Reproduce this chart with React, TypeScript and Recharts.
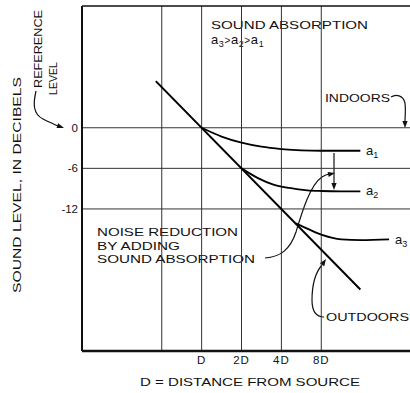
import React from 'react';
import { LineChart, Line, XAxis, YAxis, ReferenceLine, Customized } from 'recharts';

const FONT = "'Liberation Sans', Arial, sans-serif";

const xTicks = [0, 1, 2, 3];
const xTickLabels = ['D', '2D', '4D', '8D'];
const yTicks = [0, -6, -12];
const yTickLabels = ['0', '-6', '-12'];
const gridX = [-1, 0, 1, 2, 3];
const gridY = [0, -6, -12];

const outdoorsX = [-1.15, 3.98];
const outdoorsY = [6.9, -23.9];
const a1X = [0, 0.5, 1, 1.5, 2, 2.5, 3, 3.5, 3.98];
const a1Y = [0, -1.3, -2.2, -2.8, -3.15, -3.35, -3.4, -3.4, -3.4];
const a2X = [1, 1.4, 1.8, 2.2, 2.65, 3, 3.5, 3.98];
const a2Y = [-6, -7.4, -8.4, -8.9, -9.25, -9.35, -9.4, -9.4];
const a3X = [2.35, 2.5, 3, 3.5, 4, 4.7];
const a3Y = [-14.1, -14.5, -15.8, -16.5, -16.6, -16.5];

const toData = (xs: number[], ys: number[]) => xs.map((x, i) => ({ x, y: ys[i] }));
const outdoorsData = toData(outdoorsX, outdoorsY);
const a1Data = toData(a1X, a1Y);
const a2Data = toData(a2X, a2Y);
const a3Data = toData(a3X, a3Y);

const head = (tx: number, ty: number, angDeg: number, len = 7, half = 2.6) => {
  const a = (angDeg * Math.PI) / 180;
  const bx = tx - len * Math.cos(a);
  const by = ty - len * Math.sin(a);
  const px = -Math.sin(a) * half;
  const py = Math.cos(a) * half;
  return `${tx},${ty} ${bx + px},${by + py} ${bx - px},${by - py}`;
};

const ALabel = ({ x, y, n }: { x: number; y: number; n: string }) => (
  <text x={x} y={y} fontSize={13} fontFamily={FONT} fill="#111">
    a<tspan fontSize={9} dy={3}>{n}</tspan>
  </text>
);

const SG = 'spacingAndGlyphs';

const Annotations = () => (
  <g fontFamily={FONT} fill="#111">
    <text x={211} y={29} fontSize={11.5} textLength={157} lengthAdjust={SG}>SOUND ABSORPTION</text>
    <text x={211} y={44} fontSize={13} letterSpacing={0.6}>
      a<tspan fontSize={9} dy={3}>3</tspan>
      <tspan fontSize={10} dy={-3}>&gt;</tspan>a<tspan fontSize={9} dy={3}>2</tspan>
      <tspan fontSize={10} dy={-3}>&gt;</tspan>a<tspan fontSize={9} dy={3}>1</tspan>
    </text>
    <text x={325} y={102} fontSize={11.5} textLength={65} lengthAdjust={SG}>INDOORS</text>
    <ALabel x={366} y={155} n="1" />
    <ALabel x={366} y={195} n="2" />
    <ALabel x={395} y={244} n="3" />
    <text x={97} y={236} fontSize={11.5} textLength={141} lengthAdjust={SG}>NOISE REDUCTION</text>
    <text x={97} y={250} fontSize={11.5} textLength={83} lengthAdjust={SG}>BY ADDING</text>
    <text x={97} y={263} fontSize={11.5} textLength={158} lengthAdjust={SG}>SOUND ABSORPTION</text>
    <text x={326} y={321} fontSize={11.5} textLength={83} lengthAdjust={SG}>OUTDOORS</text>
    <text x={140} y={386} fontSize={11} textLength={220} lengthAdjust={SG}>D = DISTANCE FROM SOURCE</text>
    <text transform="translate(21,293) rotate(-90)" fontSize={11} textLength={216} lengthAdjust={SG}>SOUND LEVEL, IN DECIBELS</text>
    <text transform="translate(42,88) rotate(-90)" fontSize={11} textLength={78} lengthAdjust={SG}>REFERENCE</text>
    <text transform="translate(57,95) rotate(-90)" fontSize={11} textLength={33} lengthAdjust={SG}>LEVEL</text>
    <g stroke="#111" strokeWidth={1.2} fill="none">
      <path d="M36,91 C33,104 33,114 43,119 C49,122 54,124 58,126" />
      <path d="M391,97 C396,94 403,95 405,103 C406,110 405,115 405,121" />
      <path d="M265,258 C280,257 290,250 296,232 C302,212 310,185 322,177 C325,175 327,174.5 329,174" />
      <path d="M334,153 L334,184" />
      <path d="M324,317 C316,317 312,312 312,300 C312,285 316,272 322,265" />
    </g>
    <g fill="#111" stroke="none">
      <polygon points={head(64, 128, 20)} />
      <polygon points={head(405, 128, 90)} />
      <polygon points={head(335, 173, -12)} />
      <polygon points={head(334, 190, 90)} />
      <polygon points={head(326, 259, -56)} />
    </g>
  </g>
);

export default function App() {
  return (
    <div style={{ position: 'absolute', left: 0, top: 0, width: 410, height: 393, background: '#fff' }}>
      <LineChart width={410} height={393} margin={{ top: 6, right: 0, bottom: 12, left: 0 }}>
        <XAxis
          type="number"
          dataKey="x"
          domain={[-3, 5.225]}
          ticks={xTicks}
          tickFormatter={(v: number) => xTickLabels[xTicks.indexOf(v)] ?? ''}
          height={30}
          tickLine={false}
          tickSize={0}
          tickMargin={5}
          axisLine={{ stroke: '#111', strokeWidth: 2.5 }}
          tick={{ fill: '#111', fontSize: 11.5, fontFamily: FONT, letterSpacing: 1 }}
          allowDataOverflow
        />
        <YAxis
          type="number"
          dataKey="y"
          domain={[-33, 18]}
          ticks={yTicks}
          tickFormatter={(v: number) => yTickLabels[yTicks.indexOf(v)] ?? ''}
          width={82}
          tickLine={false}
          tickSize={0}
          tickMargin={4}
          axisLine={{ stroke: '#111', strokeWidth: 2 }}
          tick={{ fill: '#111', fontSize: 11.5, fontFamily: FONT }}
          allowDataOverflow
        />
        {gridX.map((v) => (
          <ReferenceLine key={'gx' + v} x={v} stroke="#333" strokeWidth={1} />
        ))}
        {gridY.map((v) => (
          <ReferenceLine key={'gy' + v} y={v} stroke="#333" strokeWidth={1} />
        ))}
        <ReferenceLine y={18} stroke="#111" strokeWidth={1.6} />
        <Line data={outdoorsData} dataKey="y" type="linear" stroke="#000" strokeWidth={2} dot={false} isAnimationActive={false} />
        <Line data={a1Data} dataKey="y" type="monotone" stroke="#000" strokeWidth={1.8} dot={false} isAnimationActive={false} />
        <Line data={a2Data} dataKey="y" type="monotone" stroke="#000" strokeWidth={1.8} dot={false} isAnimationActive={false} />
        <Line data={a3Data} dataKey="y" type="monotone" stroke="#000" strokeWidth={1.8} dot={false} isAnimationActive={false} />
        <Customized component={Annotations} />
      </LineChart>
    </div>
  );
}
